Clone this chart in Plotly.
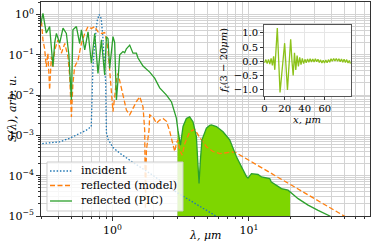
import numpy as np
import plotly.graph_objects as go

# ---------------- data ----------------
# incident spectrum: wavelength (um) and log10(S)
inc_lam = [0.29, 0.347, 0.411, 0.487, 0.576, 0.645, 0.700, 0.706, 0.72, 0.748,
           0.774, 0.80, 0.828, 0.849, 0.871, 0.893, 0.900, 0.904, 0.93, 1.01,
           1.13, 1.27, 1.415, 2.0, 2.91, 5.6, 8.0]
inc_log = [-3.21, -3.19, -3.16, -3.07, -2.95, -2.87, -2.78, -2.0, -1.3, -0.6,
           -0.15, 0.0, -0.1, -0.5, -1.1, -1.7, -2.5, -2.93, -3.1, -3.3,
           -3.44, -3.57, -3.67, -4.0, -4.40, -4.98, -5.3]

# reflected (model)
mod_lam = [0.29, 0.302, 0.310, 0.319, 0.328, 0.337, 0.347, 0.357, 0.367, 0.378,
           0.399, 0.423, 0.448, 0.473, 0.487, 0.501, 0.514, 0.529, 0.560, 0.593,
           0.627, 0.663, 0.702, 0.742, 0.784, 0.831, 0.878, 0.904, 0.929, 0.955,
           0.983, 1.01, 1.039, 1.07, 1.099, 1.164, 1.196, 1.266, 1.339, 1.415,
           1.499, 1.585, 1.676, 1.724, 1.745, 1.775, 1.855, 1.876, 1.983, 2.10,
           2.22, 2.35, 2.49, 2.63, 2.78, 2.86, 2.94, 3.02, 3.11, 3.24,
           3.39, 3.68, 3.89, 4.01, 4.36, 4.88, 5.46, 6.11, 6.84, 7.87,
           10.14, 14.2, 20.0, 30.0, 40.0, 50.0, 60.0]
mod_log = [0.0, -0.14, -0.63, -0.85, -1.3, -0.96, -1.87, -1.05, -1.3, -0.88,
           -0.63, -0.96, -0.72, -1.05, -1.54, -2.54, -1.71, -1.3, -1.13, -0.72,
           -0.47, -0.30, -0.35, -0.30, -0.43, -0.47, -0.45, -0.63, -0.88, -1.38,
           -1.87, -2.41, -2.04, -1.63, -1.46, -1.79, -2.0, -2.37, -2.49, -2.33,
           -2.16, -2.04, -2.29, -2.87, -4.82, -3.36, -2.87, -2.49, -2.54, -2.70,
           -2.62, -2.58, -2.65, -2.90, -3.28, -3.40, -3.2, -3.11, -3.36, -3.49,
           -3.2, -2.91, -2.87, -2.85, -3.05, -3.28, -3.40, -3.45, -3.43, -3.41,
           -3.63, -3.92, -4.21, -4.56, -4.81, -5.0, -5.16]

# reflected (PIC)
pic_lam = [0.29, 0.298, 0.310, 0.319, 0.328, 0.347, 0.367, 0.378, 0.389, 0.411,
           0.435, 0.460, 0.48, 0.501, 0.51, 0.514, 0.545, 0.576, 0.593, 0.627,
           0.663, 0.702, 0.742, 0.784, 0.831, 0.878, 0.904, 0.929, 0.955, 0.983,
           1.01, 1.039, 1.07, 1.099, 1.131, 1.196, 1.23, 1.266, 1.339, 1.415,
           1.499, 1.54, 1.676, 1.876, 2.04, 2.22, 2.49, 2.71, 2.94, 3.02,
           3.15, 3.29, 3.48, 3.68, 3.89, 4.12, 4.24, 4.31, 4.41, 4.53,
           4.88, 5.16, 5.31, 5.78, 6.46, 7.23, 8.10, 9.05, 9.59, 9.85,
           10.43, 11.66, 12.35, 14.2, 14.6, 17.3, 19.34, 22.9, 27.1, 32.1,
           39.1, 45.0]
pic_log = [-0.3, -0.26, 0.03, -0.2, -0.46, -0.30, -1.29, -0.7, -0.47, -0.71,
           -0.34, -0.47, -1.0, -2.12, -1.0, -0.38, -0.30, -0.72, -0.38, -0.88,
           -0.43, -1.21, -0.47, -1.46, -0.63, -1.50, -0.55, -0.6, -1.34, -0.9,
           -0.55, -0.7, -2.12, -1.63, -1.0, -0.92, -0.95, -0.85, -0.76, -0.96,
           -0.96, -1.08, -1.28, -1.43, -1.58, -1.82, -2.0, -2.17, -2.57, -2.87,
           -3.24, -2.78, -2.58, -2.54, -2.66, -3.03, -3.61, -4.19, -3.61, -3.11,
           -2.82, -2.75, -2.74, -2.78, -2.91, -3.11, -3.53, -3.86, -4.02, -4.06,
           -3.95, -3.97, -4.03, -4.07, -4.16, -4.32, -4.36, -4.57, -4.73, -4.86,
           -5.0, -5.15]

# filtered band (3 - 20 um)
band = [3.0, 20.0]

# inset: f_t(3-20um) vs x (um)
ins_x = [0, 1.3, 2.6, 3.9, 5.2, 6.5, 7.8, 9.0, 10.2, 11.4,
         12.7, 14.0, 15.4, 16.9, 18.5, 20.0, 21.4, 22.8, 24.4, 26.0,
         27.3, 28.5, 29.8, 31.1, 32.4, 33.7, 35.0, 36.3, 37.6, 38.9,
         40.2, 41.5, 42.8, 44.1, 45.4, 46.7, 48.0, 49.3, 50.6, 51.9,
         53.2, 54.5, 55.8, 57.1, 58.4, 59.7, 61.0, 62.3, 63.6, 64.9,
         66.2, 67.5, 68.8, 70.1, 71.4, 72.7, 74.0, 75.3, 76.6, 77.9,
         79.2, 80.5, 81.8, 83.1, 84.4, 85.5]
ins_y = [-0.05, 0.06, -0.08, 0.07, -0.1, 0.1, -0.14, 0.18, -0.3, 0.35,
         1.17, 0.08, -1.10, -0.53, 0.07, 0.64, -0.19, -1.01, -0.11, 0.78,
         0.0, -0.5, 0.3, -0.3, 0.2, -0.18, 0.14, -0.12, 0.1, -0.08,
         0.07, -0.05, 0.08, -0.03, 0.09, -0.02, 0.08, -0.02, 0.09, -0.01,
         0.07, -0.04, 0.05, -0.06, 0.04, -0.06, 0.05, -0.05, 0.06, -0.03,
         0.09, 0.0, 0.1, 0.01, 0.1, 0.0, 0.09, -0.01, 0.08, -0.03,
         0.07, -0.04, 0.06, -0.06, 0.03, -0.08]

# series names and tick labels
series_names = ["incident", "reflected (model)", "reflected (PIC)"]
x_major = [1, 10]
x_major_text = ["10<sup>0</sup>", "10<sup>1</sup>"]
y_major = [1e-5, 1e-4, 1e-3, 1e-2, 1e-1, 1]
y_major_text = ["10<sup>−5</sup>", "10<sup>−4</sup>", "10<sup>−3</sup>",
                "10<sup>−2</sup>", "10<sup>−1</sup>", "10<sup>0</sup>"]
ins_xticks = [0, 20, 40, 60]
ins_yticks = [-1.0, -0.5, 0.0, 0.5, 1.0]
ins_yticktext = ["−1.0", "−0.5", "0.0", "0.5", "1.0"]

# ---------------- build figure ----------------
inc_S = [10 ** v for v in inc_log]
mod_S = [10 ** v for v in mod_log]
pic_S = [10 ** v for v in pic_log]

# fill polygon under the PIC curve inside the band
ll = np.log10(pic_lam)
lv = np.array(pic_log)
inner = [(l, s) for l, s in zip(pic_lam, pic_S) if band[0] < l < band[1]]
s_lo = 10 ** np.interp(np.log10(band[0]), ll, lv)
s_hi = 10 ** np.interp(np.log10(band[1]), ll, lv)
fx = [band[0]] + [p[0] for p in inner] + [band[1], band[1], band[0]]
fy = [s_lo] + [p[1] for p in inner] + [s_hi, 1e-7, 1e-7]

GRID = "#d3d3d3"
FONT = "DejaVu Serif"
COLORS = ["#1f77b4", "#ff7f0e", "#2ca02c"]
DASHES = ["1.5px,1.8px", "5px,2.5px", "solid"]

fig = go.Figure()
fig.add_trace(go.Scatter(x=fx, y=fy, mode="lines", fill="toself",
                         fillcolor="#7ed600", line=dict(width=0),
                         showlegend=False, hoverinfo="skip"))
for lam, S, nm, c, d in zip([inc_lam, mod_lam, pic_lam], [inc_S, mod_S, pic_S],
                            series_names, COLORS, DASHES):
    fig.add_trace(go.Scatter(x=lam, y=S, mode="lines", name=nm, showlegend=False,
                             line=dict(color=c, width=1.3, dash=d)))
fig.add_trace(go.Scatter(x=ins_x, y=ins_y, mode="lines", xaxis="x2", yaxis="y2",
                         line=dict(color="#8cc21a", width=1.3), showlegend=False))

x_minor = [m * 10 ** e for e in range(-1, 2) for m in range(2, 10)]
y_minor = [m * 10 ** e for e in range(-6, 1) for m in range(2, 10)]

# legend drawn as a box with line samples and text (paper coordinates)
shapes = [dict(type="rect", xref="paper", yref="paper", x0=0.0182, x1=0.4316,
               y0=0.0234, y1=0.2523, fillcolor="rgba(255,255,255,0.82)",
               line=dict(color="#cccccc", width=1), layer="above")]
annots = []
leg_y = [0.2103, 0.1425, 0.0701]
for nm, c, d, yy in zip(series_names, COLORS, DASHES, leg_y):
    shapes.append(dict(type="line", xref="paper", yref="paper", x0=0.0274, x1=0.0942,
                       y0=yy, y1=yy, line=dict(color=c, width=1.3, dash=d), layer="above"))
    annots.append(dict(text=nm, xref="paper", yref="paper", x=0.1155, y=yy,
                       xanchor="left", yanchor="middle", showarrow=False,
                       font=dict(size=11, family=FONT)))

annots += [
    dict(text="<i>S(λ), arb. u.</i>", xref="paper", yref="paper",
         x=-0.088, y=0.5, xanchor="center", yanchor="middle",
         textangle=-90, showarrow=False, font=dict(size=11)),
    dict(text="<i>λ, μm</i>", xref="paper", yref="paper",
         x=0.5015, y=-0.089, xanchor="center", yanchor="middle",
         showarrow=False, font=dict(size=11)),
    dict(text="<i>f<sub>t</sub></i>(3 − 20<i>μm</i>)", xref="paper", yref="paper",
         x=0.559, y=0.729, xanchor="center", yanchor="middle",
         textangle=-90, showarrow=False, font=dict(size=10)),
    dict(text="<i>x, μm</i>", xref="paper", yref="paper",
         x=0.81, y=0.452, xanchor="center", yanchor="middle",
         showarrow=False, font=dict(size=10)),
]

fig.update_layout(
    width=374, height=244,
    margin=dict(l=41, r=4, t=2, b=28),
    plot_bgcolor="white", paper_bgcolor="white",
    font=dict(family=FONT, size=11, color="black"),
    showlegend=False,
    xaxis=dict(type="log", range=[np.log10(0.3), np.log10(77)],
               tickmode="array", tickvals=x_major, ticktext=x_major_text,
               ticks="outside", ticklen=4, tickcolor="#333",
               showgrid=True, gridcolor=GRID, gridwidth=1,
               showline=True, mirror=True, linecolor="#333", linewidth=1,
               zeroline=False, domain=[0, 1], anchor="y",
               minor=dict(tickmode="array", tickvals=x_minor, showgrid=True,
                          gridcolor=GRID, ticks="outside", ticklen=2, tickcolor="#333"),
               tickfont=dict(size=11)),
    yaxis=dict(type="log", range=[-5, 0.31],
               tickmode="array", tickvals=y_major, ticktext=y_major_text,
               ticks="outside", ticklen=4, tickcolor="#333",
               showgrid=True, gridcolor=GRID, gridwidth=1,
               showline=True, mirror=True, linecolor="#333", linewidth=1,
               zeroline=False, domain=[0, 1], anchor="x",
               minor=dict(tickmode="array", tickvals=y_minor, showgrid=True,
                          gridcolor=GRID, ticks="outside", ticklen=2, tickcolor="#333"),
               tickfont=dict(size=11)),
    xaxis2=dict(domain=[0.678, 0.942], anchor="y2", range=[-0.5, 86],
                tickmode="array", tickvals=ins_xticks,
                ticks="outside", ticklen=3, tickcolor="#333",
                showgrid=True, gridcolor="#e6e6e6",
                showline=True, mirror=True, linecolor="#555", linewidth=1,
                zeroline=False, tickfont=dict(size=10)),
    yaxis2=dict(domain=[0.561, 0.8925], anchor="x2", range=[-1.22, 1.28],
                tickmode="array", tickvals=ins_yticks, ticktext=ins_yticktext,
                ticks="outside", ticklen=3, tickcolor="#333",
                showgrid=True, gridcolor="#e6e6e6",
                showline=True, mirror=True, linecolor="#555", linewidth=1,
                zeroline=False, tickfont=dict(size=10)),
    shapes=shapes,
    annotations=annots,
)

fig.write_html("out.html", config={"displayModeBar": False},
               post_script="document.body.style.margin='0';document.body.style.overflow='hidden';")
